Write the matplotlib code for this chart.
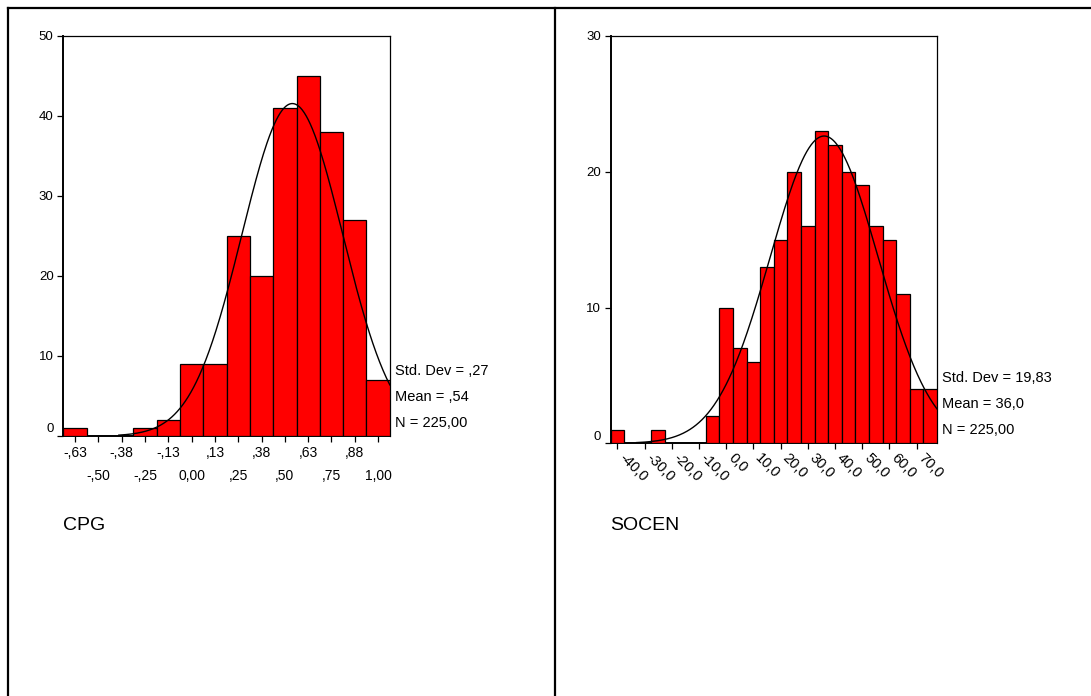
import numpy as np
import matplotlib
matplotlib.use("Agg")
import matplotlib.pyplot as plt
from matplotlib.lines import Line2D
from matplotlib.transforms import ScaledTranslation

plt.rcParams['font.family'] = ['Liberation Sans', 'DejaVu Sans']

# ---------------- data ----------------
# CPG histogram (bin width 0.125)
cpg_centers = [-0.625, -0.5, -0.375, -0.25, -0.125, 0.0, 0.125, 0.25, 0.375, 0.5, 0.625, 0.75, 0.875, 1.0]
cpg_counts = [1, 0, 0, 1, 2, 9, 9, 25, 20, 41, 45, 38, 27, 7]
cpg_ticklabels = ["-,63", "-,50", "-,38", "-,25", "-,13", "0,00", ",13", ",25", ",38", ",50", ",63", ",75", ",88", "1,00"]
cpg_sd, cpg_mean, cpg_n = 0.27, 0.54, 225
cpg_binw = 0.125
cpg_curve_from = -0.39

# SOCEN histogram (bin width 5)
socen_centers = [-40, -35, -30, -25, -20, -15, -10, -5, 0, 5, 10, 15, 20, 25, 30, 35, 40, 45, 50, 55, 60, 65, 70, 75]
socen_counts = [1, 0, 0, 1, 0, 0, 0, 2, 10, 7, 6, 13, 15, 20, 16, 23, 22, 20, 19, 16, 15, 11, 4, 4]
socen_ticks = [-40, -30, -20, -10, 0, 10, 20, 30, 40, 50, 60, 70]
socen_ticklabels = ["-40,0", "-30,0", "-20,0", "-10,0", "0,0", "10,0", "20,0", "30,0", "40,0", "50,0", "60,0", "70,0"]
socen_sd, socen_mean, socen_n = 19.83, 36.0, 225
socen_binw = 5
socen_curve_from = -33

cpg_stats = ["Std. Dev = ,27", "Mean = ,54", "N = 225,00"]
socen_stats = ["Std. Dev = 19,83", "Mean = 36,0", "N = 225,00"]

W, H = 1091, 696
fig = plt.figure(figsize=(W / 100, H / 100), dpi=100)


def px(x0, y0, x1, y1):
    return [x0 / W, 1 - y1 / H, (x1 - x0) / W, (y1 - y0) / H]


def normal_curve(ax, mean, sd, n, binw, x0, x1):
    xs = np.linspace(x0, x1, 400)
    ys = n * binw / (sd * np.sqrt(2 * np.pi)) * np.exp(-0.5 * ((xs - mean) / sd) ** 2)
    ax.plot(xs, ys, color='black', lw=1.0, zorder=4)


def style_axes(ax):
    for s in ax.spines.values():
        s.set_linewidth(0.9)
        s.set_color('black')
    ax.spines['left'].set_linewidth(1.4)
    ax.spines['bottom'].set_linewidth(1.4)
    ax.tick_params(axis='both', which='both', direction='out', length=4, width=0.9,
                   labelsize=10, colors='black', pad=3, right=False, top=False)
    ax.tick_params(axis='y', labelsize=9.5)


def shift_zero_label(ax, fig):
    lab = ax.get_yticklabels()[0]
    lab.set_transform(lab.get_transform() + ScaledTranslation(0, 8 / 100, fig.dpi_scale_trans))


# ---------------- left: CPG ----------------
ax1 = fig.add_axes(px(63.3, 36, 389.8, 436))
ax1.bar(cpg_centers, cpg_counts, width=cpg_binw, color='#FF0000', edgecolor='black', linewidth=0.9, zorder=3)
ax1.set_xlim(cpg_centers[0] - cpg_binw / 2, cpg_centers[-1] + cpg_binw / 2)
ax1.set_ylim(0, 50)
ax1.set_yticks([0, 10, 20, 30, 40, 50])
normal_curve(ax1, cpg_mean, cpg_sd, cpg_n, cpg_binw, cpg_curve_from, cpg_centers[-1] + cpg_binw / 2)
style_axes(ax1)
ax1.set_xticks(cpg_centers[::2])
ax1.set_xticklabels(cpg_ticklabels[::2])
ax1.set_xticks(cpg_centers[1::2], minor=True)
ax1.set_xticklabels(cpg_ticklabels[1::2], minor=True)
ax1.tick_params(axis='x', which='major', pad=3.5)
ax1.tick_params(axis='x', which='minor', pad=19.5)
shift_zero_label(ax1, fig)

# ---------------- right: SOCEN ----------------
ax2 = fig.add_axes(px(610.7, 36, 937, 443.3))
ax2.bar(socen_centers, socen_counts, width=socen_binw, color='#FF0000', edgecolor='black', linewidth=0.9, zorder=3)
ax2.set_xlim(socen_centers[0] - socen_binw / 2, socen_centers[-1] + socen_binw / 2)
ax2.set_ylim(0, 30)
ax2.set_yticks([0, 10, 20, 30])
normal_curve(ax2, socen_mean, socen_sd, socen_n, socen_binw, socen_curve_from, socen_centers[-1] + socen_binw / 2)
style_axes(ax2)
ax2.set_xticks(socen_ticks)
ax2.set_xticklabels(socen_ticklabels, rotation=-45, ha='left', va='center', rotation_mode='anchor',
                    fontsize=10.5)
for lab in ax2.get_xticklabels():
    lab.set_transform(lab.get_transform() + ScaledTranslation(4 / 100, -3 / 100, fig.dpi_scale_trans))
shift_zero_label(ax2, fig)

# ---------------- stats text ----------------
for i, s in enumerate(cpg_stats):
    fig.text(395 / W, 1 - (370.7 + 26 * i) / H, s, fontsize=10.5, va='center', ha='left')
for i, s in enumerate(socen_stats):
    fig.text(941.7 / W, 1 - (377.7 + 26.2 * i) / H, s, fontsize=10.5, va='center', ha='left')

# variable names
fig.text(62.7 / W, 1 - 525 / H, "CPG", fontsize=14, va='center', ha='left')
fig.text(610.5 / W, 1 - 525 / H, "SOCEN", fontsize=14, va='center', ha='left')

# table borders
lw = 1.6
fig.add_artist(Line2D([8 / W, 1], [1 - 7.5 / H, 1 - 7.5 / H], color='black', lw=lw, transform=fig.transFigure))
fig.add_artist(Line2D([8 / W, 8 / W], [1 - 7.5 / H, 0], color='black', lw=lw, transform=fig.transFigure))
fig.add_artist(Line2D([555 / W, 555 / W], [1 - 7.5 / H, 0], color='black', lw=lw, transform=fig.transFigure))

fig.savefig("out.png", dpi=100)
